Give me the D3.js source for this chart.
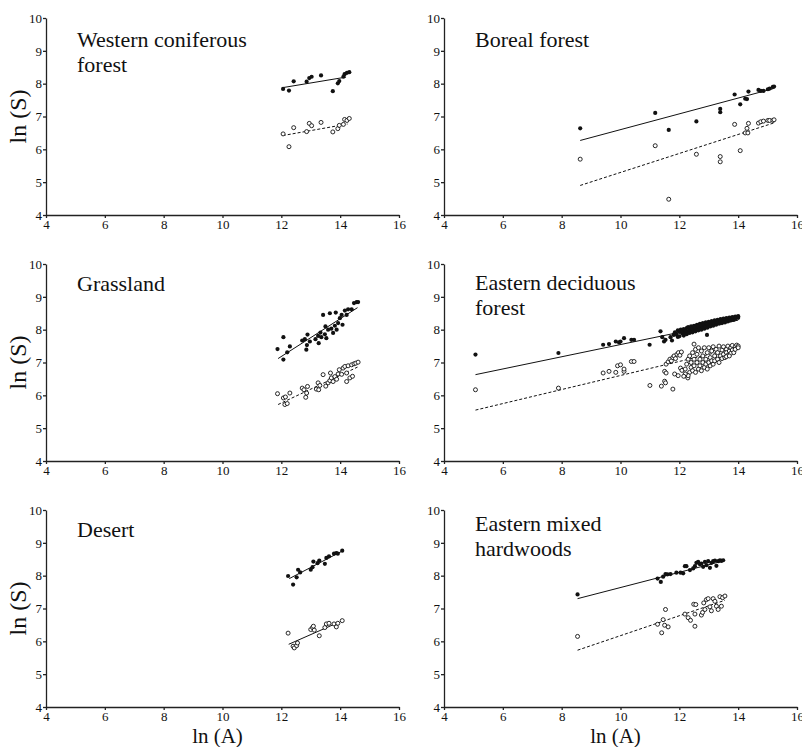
<!DOCTYPE html>
<html>
<head>
<meta charset="utf-8">
<script src="https://cdn.jsdelivr.net/npm/d3@7"></script>
<style>
  body { margin: 0; background: #fff; }
  text { font-family: "Liberation Serif", "Times New Roman", serif; fill: #111; }
  .axis path, .axis line { stroke: #222; stroke-width: 1.3; }
  .axis text { font-size: 13px; font-family: "Liberation Serif", serif; fill: #111; }
</style>
</head>
<body>
<script>
// ln(S) against ln(A), six biomes, filled = total species, open = second group

var titles = [
  ["Western coniferous", "forest"],
  ["Boreal forest"],
  ["Grassland"],
  ["Eastern deciduous", "forest"],
  ["Desert"],
  ["Eastern mixed", "hardwoods"]
]

var xTicks = [4, 6, 8, 10, 12, 14, 16]
var yTicks = [4, 5, 6, 7, 8, 9, 10]

// western coniferous forest
var wcFilled = [[12.06,7.84],[12.26,7.79],[12.42,8.07],[12.86,8.06],[12.95,8.17],[13.03,8.21],[13.35,8.25],
  [13.75,7.77],[13.92,8.01],[13.97,8.08],[14.11,8.21],[14.15,8.29],[14.23,8.33],[14.31,8.35]]
var wcOpen = [[12.06,6.47],[12.26,6.08],[12.42,6.66],[12.86,6.54],[12.95,6.79],[13.03,6.72],[13.35,6.82],
  [13.75,6.53],[13.92,6.63],[13.97,6.73],[14.11,6.76],[14.15,6.91],[14.23,6.88],[14.31,6.94]]
var wcFits = [[12.05,7.88,14.2,8.2],[12.05,6.42,14.25,6.77]]

// boreal forest
var bfFilled = [[8.63,6.64],[11.18,7.11],[11.64,6.59],[12.58,6.85],[13.39,7.23],[13.39,7.13],[13.88,7.67],
  [14.07,7.37],[14.24,7.54],[14.30,7.53],[14.35,7.76],[14.69,7.81],[14.77,7.78],[14.86,7.78],
  [15.01,7.83],[15.07,7.85],[15.18,7.90],[15.22,7.91]]
var bfOpen = [[8.63,5.70],[11.18,6.11],[11.64,4.48],[12.58,5.85],[13.39,5.78],[13.39,5.62],[13.88,6.76],
  [14.07,5.96],[14.24,6.50],[14.30,6.64],[14.33,6.50],[14.35,6.79],[14.69,6.80],[14.77,6.84],
  [14.86,6.86],[15.01,6.88],[15.07,6.88],[15.18,6.88],[15.22,6.90]]
var bfFits = [[8.63,6.27,15.2,7.85],[8.63,4.90,15.2,6.80]]

// grassland
var grFilled = [[11.87,7.41],[12.07,7.77],[12.07,7.09],[12.20,7.31],[12.29,7.49],[12.71,7.67],[12.80,7.71],
  [12.85,7.39],[12.87,7.53],[12.89,7.85],[12.97,7.64],[13.16,7.71],[13.25,7.81],[13.27,7.59],[13.33,7.91],
  [13.36,7.77],[13.42,8.45],[13.48,7.86],[13.50,8.10],[13.53,7.74],[13.59,8.00],[13.65,8.50],[13.70,8.03],
  [13.76,7.90],[13.82,8.12],[13.85,8.52],[13.88,8.00],[13.93,8.20],[13.99,8.35],[14.05,8.45],[14.08,8.15],
  [14.16,8.58],[14.22,8.45],[14.27,8.62],[14.39,8.62],[14.47,8.81],[14.56,8.84],[14.61,8.84]]
var grOpen = [[11.87,6.05],[12.07,5.92],[12.12,5.72],[12.20,5.75],[12.14,5.95],[12.29,6.07],[12.71,6.22],
  [12.77,6.17],[12.83,5.94],[12.86,6.07],[12.89,6.27],[13.19,6.19],[13.25,6.38],[13.31,6.30],[13.27,6.17],
  [13.42,6.63],[13.51,6.28],[13.59,6.38],[13.65,6.45],[13.70,6.53],[13.67,6.68],[13.76,6.42],[13.82,6.57],
  [13.88,6.49],[13.93,6.65],[13.97,6.78],[14.05,6.64],[14.10,6.83],[14.16,6.88],[14.22,6.68],[14.27,6.90],
  [14.39,6.93],[14.47,6.96],[14.53,6.98],[14.61,7.01],[14.22,6.42],[14.33,6.53],[14.42,6.58]]
var grFits = [[11.89,7.12,14.59,8.67],[11.89,5.72,14.59,6.86]]

// eastern deciduous forest
var edFilled = [[5.07,7.24],[7.89,7.29],[9.41,7.54],[9.61,7.56],[9.84,7.64],[9.95,7.61],[10.0,7.64],
  [10.12,7.74],[10.37,7.69],[10.46,7.69],[10.99,7.54],[11.36,7.95],[11.42,7.77],[11.48,7.64],[11.53,7.69],
  [11.70,7.77],[11.75,7.67],[11.81,7.84],[11.95,7.78],[12.94,7.84],
  [11.85,7.92],[11.9,7.85],[11.95,7.98],[12.0,7.80],[12.0,7.93],[12.05,8.0],[12.1,7.88],[12.1,7.95],
  [12.15,7.82],[12.15,8.02],[12.2,7.9],[12.2,7.98],[12.25,8.05],[12.25,7.86],[12.3,7.95],[12.3,8.08],
  [12.35,7.9],[12.35,8.0],[12.4,8.1],[12.4,7.96],[12.45,8.03],[12.45,7.92],[12.5,8.12],[12.5,7.98],
  [12.55,8.06],[12.55,7.95],[12.6,8.15],[12.6,8.02],[12.65,7.98],[12.65,8.1],[12.7,8.05],[12.7,8.18],
  [12.75,8.12],[12.75,8.0],[12.8,8.2],[12.8,8.08],[12.85,8.14],[12.85,8.03],[12.9,8.1],[12.9,8.22],
  [12.95,8.17],[12.95,8.06],[13.0,8.24],[13.0,8.12],[13.05,8.2],[13.05,8.1],[13.1,8.26],[13.1,8.15],
  [13.15,8.22],[13.15,8.12],[13.2,8.28],[13.2,8.18],[13.25,8.24],[13.25,8.15],[13.3,8.3],[13.3,8.2],
  [13.35,8.26],[13.35,8.18],[13.4,8.32],[13.4,8.22],[13.45,8.28],[13.45,8.2],[13.5,8.34],[13.5,8.25],
  [13.55,8.3],[13.55,8.22],[13.6,8.35],[13.6,8.27],[13.65,8.32],[13.65,8.25],[13.7,8.37],[13.7,8.3],
  [13.75,8.34],[13.75,8.28],[13.8,8.38],[13.8,8.31],[13.85,8.36],[13.85,8.3],[13.9,8.4],[13.9,8.34],
  [13.95,8.38],[14.0,8.41],[14.0,8.36]]
var edOpen = [[5.07,6.17],[7.89,6.22],[9.41,6.68],[9.61,6.73],[9.84,6.70],[9.9,6.9],[10.0,6.93],
  [10.12,6.73],[10.12,6.8],[10.37,7.03],[10.46,7.03],[11.0,6.30],[11.39,6.28],[11.5,6.43],[11.53,6.38],
  [11.5,6.73],[11.55,6.68],[11.78,6.19],[11.84,6.65],[11.96,6.6],[12.04,6.83],[12.09,6.76],[12.2,6.6],
  [12.29,6.53],[12.5,7.56],
  [11.55,6.95],[11.62,7.02],[11.68,7.1],[11.73,7.05],[11.78,7.15],[11.82,7.2],[11.87,7.12],[11.92,7.25],
  [11.97,7.3],[12.02,7.22],[12.07,7.32],
  [12.2,6.8],[12.25,6.95],[12.3,7.1],[12.35,6.7],[12.35,7.2],[12.4,6.85],[12.4,7.0],[12.45,7.3],
  [12.45,6.75],[12.5,6.9],[12.5,7.1],[12.55,7.4],[12.55,6.7],[12.6,7.0],[12.6,7.25],[12.65,6.8],
  [12.65,7.45],[12.7,7.1],[12.7,6.9],[12.75,7.35],[12.75,6.75],[12.8,7.0],[12.8,7.2],[12.85,7.45],
  [12.85,6.85],[12.9,7.1],[12.9,6.95],[12.95,7.3],[12.95,6.8],[13.0,7.0],[13.0,7.45],[13.05,7.15],
  [13.05,6.9],[13.1,7.35],[13.1,7.05],[13.15,6.95],[13.15,7.48],[13.2,7.2],[13.2,7.05],[13.25,7.4],
  [13.3,7.1],[13.3,7.3],[13.35,7.0],[13.35,7.5],[13.4,7.2],[13.45,7.38],[13.45,7.12],[13.5,7.48],
  [13.5,7.25],[13.55,7.15],[13.6,7.4],[13.6,7.3],[13.65,7.5],[13.65,7.22],[13.7,7.35],[13.75,7.45],
  [13.75,7.28],[13.8,7.52],[13.8,7.38],[13.85,7.3],[13.9,7.48],[13.9,7.4],[13.95,7.53],[14.0,7.5],
  [14.0,7.45],[12.3,6.6],[12.2,6.65],[12.15,6.58],[13.6,7.18],[13.7,7.2]]
var edFits = [[5.07,6.63,14.0,8.29],[5.07,5.55,14.0,7.46]]

// desert
var deFilled = [[12.23,7.99],[12.40,7.73],[12.52,7.95],[12.57,8.18],[12.64,8.10],[13.0,8.18],[13.06,8.26],
  [13.09,8.43],[13.23,8.38],[13.29,8.46],[13.48,8.36],[13.53,8.54],[13.62,8.59],[13.79,8.67],[13.87,8.69],
  [13.92,8.67],[14.07,8.76]]
var deOpen = [[12.23,6.25],[12.40,5.85],[12.44,5.80],[12.52,5.87],[12.55,5.95],[13.0,6.36],[13.06,6.42],
  [13.09,6.46],[13.12,6.34],[13.29,6.17],[13.48,6.42],[13.53,6.53],[13.62,6.55],[13.79,6.53],[13.87,6.44],
  [13.92,6.55],[14.07,6.63]]
var deFits = [[12.27,7.91,14.07,8.75],[12.25,5.91,13.9,6.56]]

// eastern mixed hardwoods
var emFilled = [[8.54,7.43],[11.26,7.91],[11.37,7.81],[11.45,7.97],[11.53,8.05],[11.60,8.04],[11.70,8.05],
  [11.9,8.09],[12.04,8.09],[12.13,8.07],[12.19,8.29],[12.24,8.29],[12.36,8.17],[12.47,8.22],[12.53,8.29],
  [12.58,8.39],[12.64,8.42],[12.70,8.35],[12.75,8.37],[12.81,8.27],[12.87,8.42],[12.92,8.32],[12.98,8.44],
  [13.04,8.24],[13.09,8.39],[13.15,8.44],[13.21,8.46],[13.26,8.30],[13.32,8.44],[13.38,8.47],[13.43,8.45],
  [13.49,8.47]]
var emOpen = [[8.54,6.15],[11.26,6.52],[11.40,6.26],[11.45,6.66],[11.53,6.97],[11.5,6.49],[11.62,6.44],
  [12.19,6.83],[12.30,6.72],[12.38,6.64],[12.49,7.13],[12.56,7.12],[12.53,6.83],[12.53,6.46],[12.75,6.80],
  [12.79,6.88],[12.83,7.17],[12.92,7.27],[12.98,7.30],[12.87,6.97],[13.04,7.05],[13.09,6.93],[13.15,7.30],
  [13.21,7.22],[13.26,7.07],[13.32,6.97],[13.38,7.36],[13.47,7.33],[13.55,7.38],[13.43,7.07]]
var emFits = [[8.54,7.30,13.5,8.45],[8.54,5.73,13.55,7.25]]

var filledSets = [wcFilled, bfFilled, grFilled, edFilled, deFilled, emFilled]
var openSets = [wcOpen, bfOpen, grOpen, edOpen, deOpen, emOpen]
var fitSets = [wcFits, bfFits, grFits, edFits, deFits, emFits]
// the desert panel draws its lower fit as a plain line
var dashedLower = [true, true, true, true, false, true]

// layout
var w = 802
var h = 747
var cols = [46, 444]
var rows = [18, 264, 510]
var pw = 353
var ph = 197
var titleOffsets = [29, 29, 27, 26, 27, 21]

var svg = d3.select("body")
            .append("svg")
            .attr("width", w)
            .attr("height", h)

titles.forEach(function(t, i) {
  var left = cols[i % 2]
  var top = rows[Math.floor(i / 2)]

  var xScale = d3.scaleLinear()
                 .domain([4, 16])
                 .range([left, left + pw])
  var yScale = d3.scaleLinear()
                 .domain([4, 10])
                 .range([top + ph, top])

  var g = svg.append("g")

  // axes
  g.append("g")
   .attr("class", "axis")
   .attr("transform", "translate(0," + (top + ph) + ")")
   .call(d3.axisBottom(xScale).tickValues(xTicks).tickFormat(d3.format("d"))
           .tickSize(3).tickPadding(2).tickSizeOuter(0))
  g.append("g")
   .attr("class", "axis")
   .attr("transform", "translate(" + left + ",0)")
   .call(d3.axisLeft(yScale).tickValues(yTicks).tickFormat(d3.format("d"))
           .tickSize(3).tickPadding(1).tickSizeOuter(0))
  g.selectAll(".axis .domain").attr("fill", "none")

  // regression lines
  g.selectAll(".fit")
   .data(fitSets[i])
   .enter()
   .append("line")
   .attr("x1", function(d) { return xScale(d[0]) })
   .attr("y1", function(d) { return yScale(d[1]) })
   .attr("x2", function(d) { return xScale(d[2]) })
   .attr("y2", function(d) { return yScale(d[3]) })
   .attr("stroke", "#111")
   .attr("stroke-width", 1)
   .attr("stroke-dasharray", function(d, j) { return (j == 1 && dashedLower[i]) ? "3,2" : null })

  // open circles
  g.selectAll(".open")
   .data(openSets[i])
   .enter()
   .append("circle")
   .attr("cx", function(d) { return xScale(d[0]) })
   .attr("cy", function(d) { return yScale(d[1]) })
   .attr("r", 2)
   .attr("fill", "#fff")
   .attr("stroke", "#111")
   .attr("stroke-width", 0.9)

  // filled circles
  g.selectAll(".filled")
   .data(filledSets[i])
   .enter()
   .append("circle")
   .attr("cx", function(d) { return xScale(d[0]) })
   .attr("cy", function(d) { return yScale(d[1]) })
   .attr("r", 2.1)
   .attr("fill", "#111")

  // panel title
  g.selectAll(".title")
   .data(t)
   .enter()
   .append("text")
   .attr("x", left + 31)
   .attr("y", function(d, j) { return top + titleOffsets[i] + j * 25 })
   .style("font-size", "22px")
   .text(function(d) { return d })

  // y label on the left column
  if (i % 2 == 0) {
    svg.append("text")
       .attr("transform", "translate(26," + (top + ph / 2) + ") rotate(-90)")
       .style("text-anchor", "middle")
       .style("font-size", "24px")
       .text("ln (S)")
  }
  // x label under the bottom row
  if (i >= 4) {
    svg.append("text")
       .attr("x", left + pw / 2 - 5)
       .attr("y", 743)
       .style("text-anchor", "middle")
       .style("font-size", "21px")
       .text("ln (A)")
  }
})
</script>
</body>
</html>
